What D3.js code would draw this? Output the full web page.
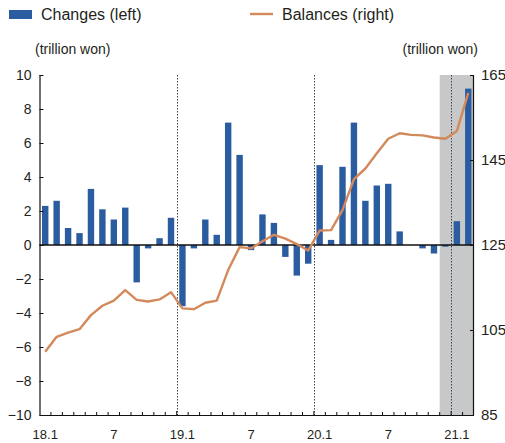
<!DOCTYPE html>
<html>
<head>
<meta charset="utf-8">
<script src="https://cdn.jsdelivr.net/npm/d3@7"></script>
<style>
  html, body { margin: 0; padding: 0; background: #fff; }
  svg { display: block; font-family: "Liberation Sans", Arial, sans-serif; }
</style>
</head>
<body>
<svg id="chart" width="505" height="443"></svg>
<script>
const months = [
  "18.1","18.2","18.3","18.4","18.5","18.6","18.7","18.8","18.9","18.10","18.11","18.12",
  "19.1","19.2","19.3","19.4","19.5","19.6","19.7","19.8","19.9","19.10","19.11","19.12",
  "20.1","20.2","20.3","20.4","20.5","20.6","20.7","20.8","20.9","20.10","20.11","20.12",
  "21.1","21.2"
];
const changes = [
  2.3, 2.6, 1.0, 0.7, 3.3, 2.1, 1.5, 2.2, -2.2, -0.2, 0.4, 1.6,
  -3.6, -0.2, 1.5, 0.6, 7.2, 5.3, -0.3, 1.8, 1.3, -0.7, -1.8, -1.1,
  4.7, 0.3, 4.6, 7.2, 2.6, 3.5, 3.6, 0.8, 0.0, -0.2, -0.5, -0.1,
  1.4, 9.2
];
const balances = [
  99.9, 103.4, 104.4, 105.2, 108.5, 110.7, 111.9, 114.4, 112.1, 111.7, 112.2, 113.9,
  110.1, 109.9, 111.4, 111.9, 119.1, 124.5, 124.2, 125.9, 127.4, 126.5, 125.2, 123.7,
  128.4, 128.5, 133.2, 140.5, 143.0, 146.6, 150.0, 151.3, 150.9, 150.8, 150.3, 150.0,
  151.8, 160.8
];
const leftTicks = [-10, -8, -6, -4, -2, 0, 2, 4, 6, 8, 10];
const rightTicks = [85, 105, 125, 145, 165];
const xTickMonths = ["18.1","18.7","19.1","19.7","20.1","20.7","21.1"];
const yearStarts = ["19.1","20.1","21.1"];
const shadeStart = "20.12";

const svg = d3.select("#chart");
const L = 39.5, R = 474, T = 75, B = 415;
const textColor = "#231f20";

const x = d3.scaleBand().domain(months).range([L, R]).paddingInner(0.44).paddingOuter(0.22);
const yL = d3.scaleLinear().domain([-10, 10]).range([B, T]);
const yR = d3.scaleLinear().domain([85, 165]).range([B, T]);
const gap = (x.step() - x.bandwidth()) / 2;
const boundary = m => x(m) - gap;

// shaded region
svg.append("rect")
  .attr("x", boundary(shadeStart)).attr("y", T)
  .attr("width", R - boundary(shadeStart)).attr("height", B - T)
  .attr("fill", "#c7c8ca");

// dotted year lines
svg.selectAll("line.year").data(yearStarts).enter().append("line")
  .attr("class", "year")
  .attr("x1", d => Math.round(boundary(d)) + 0.5).attr("x2", d => Math.round(boundary(d)) + 0.5)
  .attr("y1", T).attr("y2", B)
  .attr("stroke", "#444").attr("stroke-width", 1).attr("stroke-dasharray", "1.5,1.5");

// bars
svg.selectAll("rect.bar").data(months).enter().append("rect")
  .attr("class", "bar")
  .attr("x", d => x(d))
  .attr("width", x.bandwidth())
  .attr("y", (d, i) => yL(Math.max(0, changes[i])))
  .attr("height", (d, i) => Math.abs(yL(changes[i]) - yL(0)))
  .attr("fill", "#2b5c9f");

// zero line
svg.append("line")
  .attr("x1", L).attr("x2", R).attr("y1", yL(0)).attr("y2", yL(0))
  .attr("stroke", "#111").attr("stroke-width", 1.3);

// balances line
const line = d3.line()
  .x((d, i) => x(months[i]) + x.bandwidth() / 2)
  .y(d => yR(d));
svg.append("path").datum(balances)
  .attr("d", line)
  .attr("fill", "none")
  .attr("stroke", "#d4895b")
  .attr("stroke-width", 2.4)
  .attr("stroke-linejoin", "round");

// left axis
const gL = svg.append("g").attr("transform", `translate(${L},0)`)
  .call(d3.axisLeft(yL).tickValues(leftTicks).tickSize(-4).tickPadding(8).tickFormat(d3.format("d")));
// right axis
const gR = svg.append("g").attr("transform", `translate(${R},0)`)
  .call(d3.axisRight(yR).tickValues(rightTicks).tickSize(-4).tickPadding(7));
// bottom axis: labels
const gB = svg.append("g").attr("transform", `translate(0,${B})`)
  .call(d3.axisBottom(x).tickValues(xTickMonths).tickSize(0).tickPadding(15)
    .tickFormat(d => d.split(".")[1] === "1" ? d : d.split(".")[1]));
// bottom axis: small inward ticks at month boundaries
svg.selectAll("line.mtick").data(months.slice(1)).enter().append("line")
  .attr("class", "mtick")
  .attr("x1", d => boundary(d)).attr("x2", d => boundary(d))
  .attr("y1", B).attr("y2", d => yearStarts.includes(d) ? B - 4 : B - 3)
  .attr("stroke", "#111").attr("stroke-width", 1);

[gL, gR, gB].forEach(g => {
  g.selectAll(".domain").attr("stroke", "#111").attr("stroke-width", 1.2);
  g.selectAll(".tick line").attr("stroke", "#111");
  g.selectAll("text").attr("fill", textColor).attr("font-family", "'Liberation Sans', Arial, sans-serif");
});
gL.selectAll("text").attr("font-size", 14);
gR.selectAll("text").attr("font-size", 15);
gB.selectAll("text").attr("font-size", 13);
gB.select(".domain").attr("d", `M${L},0.5H${R}`);
gL.select(".domain").attr("d", `M0.5,${T}V${B}`);
gR.select(".domain").attr("d", `M-0.5,${T}V${B}`);

// legend
svg.append("rect").attr("x", 9).attr("y", 10).attr("width", 23).attr("height", 9).attr("fill", "#2b5c9f");
svg.append("text").attr("x", 41).attr("y", 19.5).attr("font-size", 16).attr("fill", textColor).text("Changes (left)");
svg.append("line").attr("x1", 250).attr("x2", 273).attr("y1", 14).attr("y2", 14)
  .attr("stroke", "#d4895b").attr("stroke-width", 2.4);
svg.append("text").attr("x", 282).attr("y", 19.5).attr("font-size", 16).attr("fill", textColor).text("Balances (right)");

// unit labels
svg.append("text").attr("x", 35).attr("y", 54).attr("font-size", 14).attr("fill", textColor).text("(trillion won)");
svg.append("text").attr("x", 478).attr("y", 54).attr("font-size", 14).attr("text-anchor", "end").attr("fill", textColor).text("(trillion won)");
</script>
</body>
</html>
